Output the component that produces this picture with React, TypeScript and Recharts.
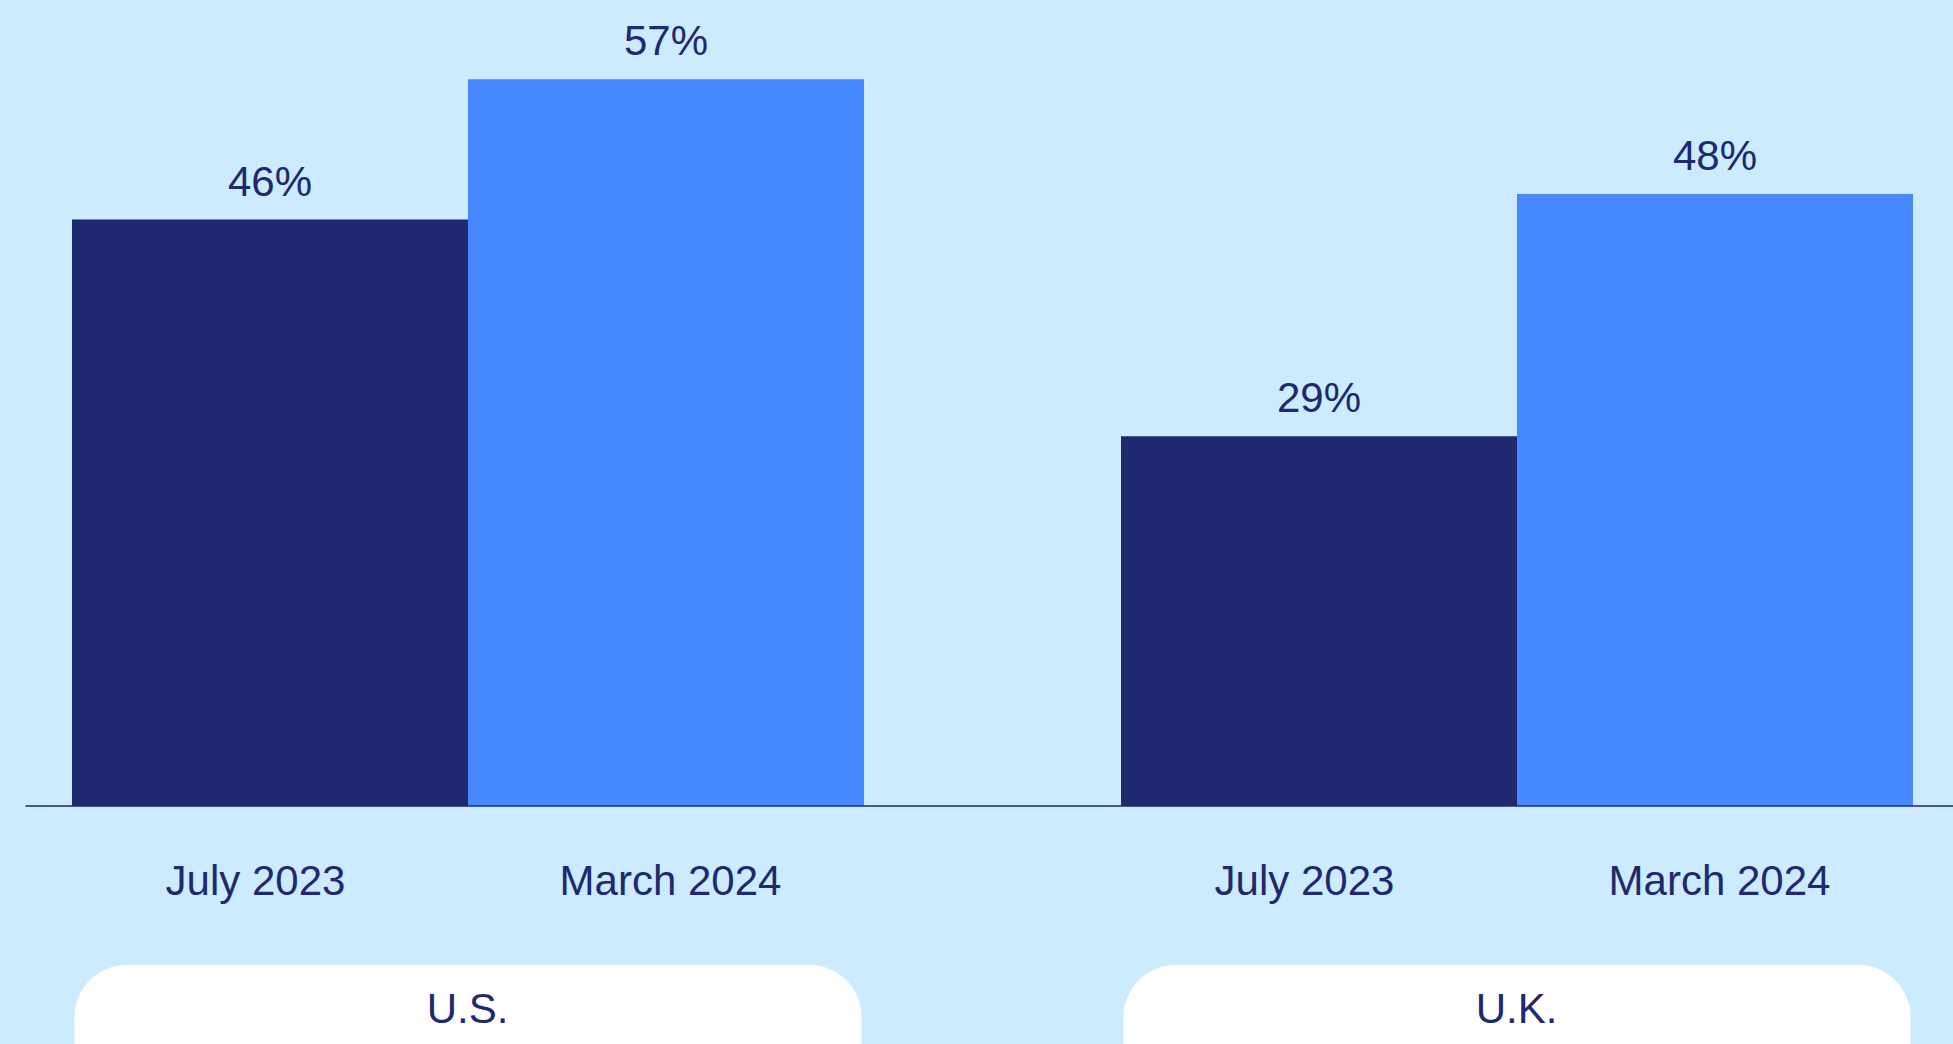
import * as React from 'react';
import { Bar, BarChart, LabelList, XAxis, YAxis } from 'recharts';

const countries = ['U.S.', 'U.K.'];
const july2023 = [46, 29];
const march2024 = [57, 48];
const seriesLabels = ['July 2023', 'March 2024'];

const navy = '#20286F';
const blue = '#4888FF';
const bg = '#CCEBFE';
const font = '"Liberation Sans", Arial, Helvetica, sans-serif';

const data = countries.map((c, i) => ({ country: c, july: july2023[i], march: march2024[i] }));

const BAR = 396;

function GroupTick(props: any) {
    const { x, y, payload, index } = props;
    return (
        <g>
            {/* baseline starts a little in from the left edge, so draw it from the first tick */}
            {index === 0 && <line x1={x - 442} x2={x + 1600} y1={y} y2={y} stroke={navy} strokeWidth={1.5} />}
            <text x={x - 212} y={y + 89} textAnchor="middle" fill={navy} fontSize={42} fontFamily={font}>
                {seriesLabels[0]}
            </text>
            <text x={x + 203} y={y + 89} textAnchor="middle" fill={navy} fontSize={42} fontFamily={font}>
                {seriesLabels[1]}
            </text>
            <rect x={x - 393} y={y + 159} width={787} height={130} rx={52} fill="#FFFFFF" />
            <text x={x} y={y + 217} textAnchor="middle" fill={navy} fontSize={42} fontFamily={font}>
                {payload.value}
            </text>
        </g>
    );
}

export default function App() {
    return (
        <div style={{ position: 'absolute', left: 0, top: 0, width: 1953, height: 1044, overflow: 'hidden', background: bg }}>
            <div style={{ marginLeft: -57 }}>
                <BarChart width={2098} height={1044} data={data} barGap={0} barSize={BAR}
                    margin={{ top: 41, right: 0, left: 0, bottom: 0 }}>
                    <XAxis dataKey="country" height={238} tickLine={false} tickSize={0} tickMargin={0}
                        axisLine={false} tick={<GroupTick />} interval={0} />
                    <YAxis hide domain={[0, 60]} />
                    <Bar dataKey="july" fill={navy} isAnimationActive={false}>
                        <LabelList dataKey="july" position="top" offset={24} formatter={(v: any) => `${v}%`}
                            fill={navy} fontSize={42} fontFamily={font} />
                    </Bar>
                    <Bar dataKey="march" fill={blue} isAnimationActive={false}>
                        <LabelList dataKey="march" position="top" offset={24} formatter={(v: any) => `${v}%`}
                            fill={navy} fontSize={42} fontFamily={font} />
                    </Bar>
                </BarChart>
            </div>
        </div>
    );
}
